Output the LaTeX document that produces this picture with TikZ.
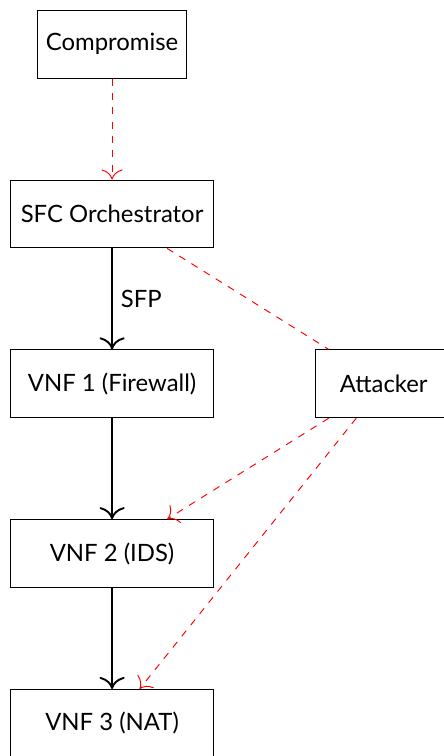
\documentclass[tikz,border=0pt]{standalone}
\usepackage{fontspec}
\setmainfont{Lato}
\usetikzlibrary{positioning,arrows.meta}
\begin{document}
\begin{tikzpicture}[
  blockbox/.style={draw, rectangle, minimum height=1cm},
  vnfbox/.style={blockbox, minimum width=3cm},
  flow/.style={-{To[scale=1.5]}, thick},
  attack/.style={-{To[scale=1.7]}, red, dashed},
  attackline/.style={red, dashed}
]
\useasboundingbox (-1.65,-7.98) rectangle (4.88,3.15);
\node[blockbox] (comp) at (0,2.5) {Compromise};
\node[vnfbox] (sfc) at (0,0) {SFC Orchestrator};
\node[vnfbox] (vnf1) at (0,-2.5) {VNF 1 (Firewall)};
\node[blockbox, minimum width=2cm] (att) at (4,-2.5) {Attacker};
\node[vnfbox] (vnf2) at (0,-5) {VNF 2 (IDS)};
\node[vnfbox] (vnf3) at (0,-7.5) {VNF 3 (NAT)};

\draw[flow] (sfc) -- node[right] {SFP} (vnf1);
\draw[flow] (vnf1) -- (vnf2);
\draw[flow] (vnf2) -- (vnf3);

\draw[attack] (comp) -- (sfc);
\draw[attackline] (sfc) -- (att);
\draw[attack] (att) -- (vnf2);
\draw[attack] (att) -- (vnf3);
\end{tikzpicture}
\end{document}
